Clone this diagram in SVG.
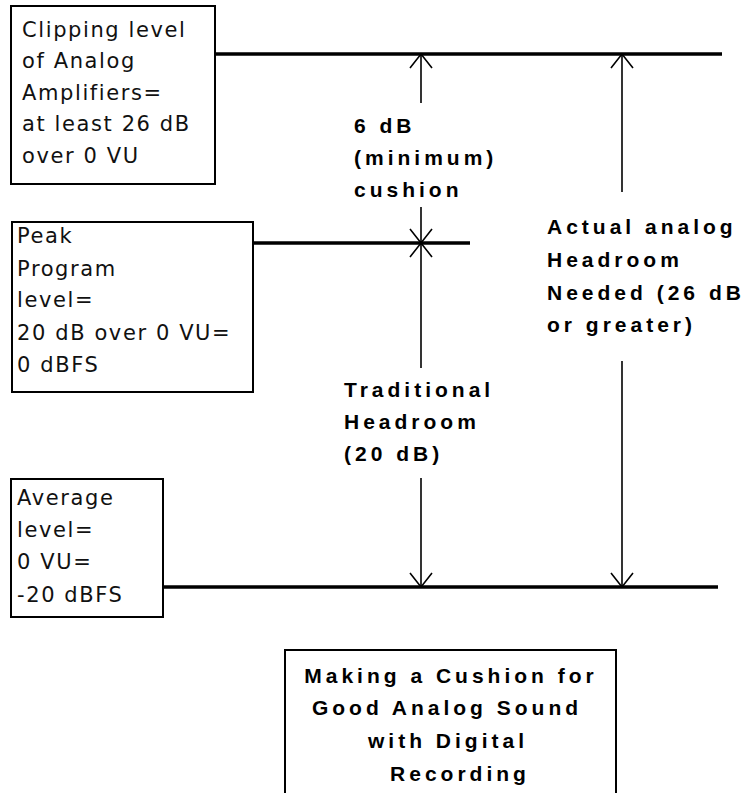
<svg xmlns="http://www.w3.org/2000/svg" width="746" height="793" viewBox="0 0 746 793">
<style>
.box{fill:#fff;stroke:#000;stroke-width:2}
.lvl{stroke:#000;stroke-width:3.5;fill:none}
.ln{stroke:#000;stroke-width:1.6;fill:none}
.t{font-family:"DejaVu Sans","Liberation Sans",sans-serif;font-size:21px;letter-spacing:1.6px;fill:#111}
.b{font-family:"Liberation Sans","DejaVu Sans",sans-serif;font-size:21px;font-weight:bold;letter-spacing:4px;fill:#000}
</style>
<rect width="746" height="793" fill="#fff"/>
<g id="clip-box">
<rect class="box" x="11" y="6" width="204" height="178"/>
<text class="t" x="22" y="37">Clipping level</text>
<text class="t" x="22" y="68">of Analog</text>
<text class="t" x="22" y="100">Amplifiers=</text>
<text class="t" x="22" y="131">at least 26 dB</text>
<text class="t" x="22" y="163">over 0 VU</text>
</g>
<g id="peak-box">
<rect class="box" x="12" y="222" width="241" height="170"/>
<text class="t" x="17" y="243">Peak</text>
<text class="t" x="17" y="276">Program</text>
<text class="t" x="17" y="307">level=</text>
<text class="t" x="17" y="340">20 dB over 0 VU=</text>
<text class="t" x="17" y="372">0 dBFS</text>
</g>
<g id="avg-box">
<rect class="box" x="11" y="479" width="152" height="138"/>
<text class="t" x="17" y="505">Average</text>
<text class="t" x="17" y="537">level=</text>
<text class="t" x="17" y="569">0 VU=</text>
<text class="t" x="17" y="602">-20 dBFS</text>
</g>
<g id="cushion-label">
<text class="b" x="354" y="133">6 dB</text>
<text class="b" x="354" y="165">(minimum)</text>
<text class="b" x="354" y="197">cushion</text>
</g>
<g id="traditional-label">
<text class="b" x="344" y="397">Traditional</text>
<text class="b" x="344" y="429">Headroom</text>
<text class="b" x="344" y="461">(20 dB)</text>
</g>
<g id="actual-label">
<text class="b" x="547" y="234">Actual analog</text>
<text class="b" x="547" y="267">Headroom</text>
<text class="b" x="547" y="300">Needed (26 dB</text>
<text class="b" x="547" y="332">or greater)</text>
</g>
<g id="title-box">
<rect class="box" x="285" y="650" width="331" height="170"/>
<text class="b" x="451" y="683" text-anchor="middle">Making a Cushion for</text>
<text class="b" x="447" y="715" text-anchor="middle">Good Analog Sound</text>
<text class="b" x="448" y="748" text-anchor="middle">with Digital</text>
<text class="b" x="460" y="781" text-anchor="middle">Recording</text>
</g>
<g id="connectors">
<line class="lvl" x1="215" y1="54" x2="722" y2="54"/>
<line class="lvl" x1="253" y1="243" x2="470" y2="243"/>
<line class="lvl" x1="163" y1="587" x2="718" y2="587"/>
<line class="ln" x1="421" y1="54" x2="421" y2="103"/>
<polyline class="ln" points="410,68 421,54 432,68"/>
<line class="ln" x1="421" y1="207" x2="421" y2="368"/>
<polyline class="ln" points="410,229 421,243 432,229"/>
<polyline class="ln" points="410,257 421,243 432,257"/>
<line class="ln" x1="421" y1="478" x2="421" y2="587"/>
<polyline class="ln" points="410,573 421,587 432,573"/>
<line class="ln" x1="622" y1="54" x2="622" y2="192"/>
<polyline class="ln" points="611,68 622,54 633,68"/>
<line class="ln" x1="622" y1="361" x2="622" y2="587"/>
<polyline class="ln" points="611,573 622,587 633,573"/>
</g>
</svg>
